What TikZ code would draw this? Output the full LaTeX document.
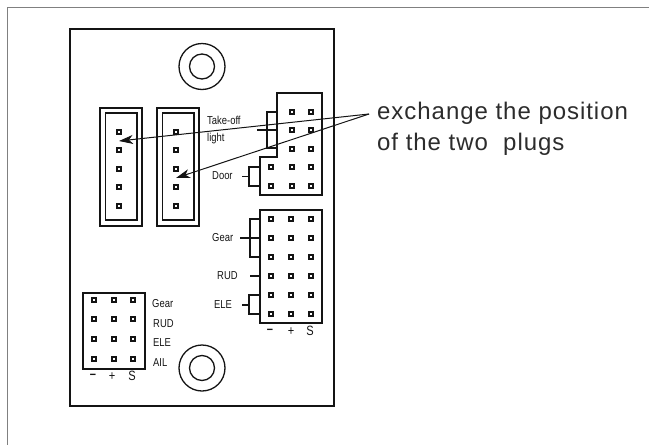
\documentclass[tikz,border=0pt]{standalone}
\usepackage{fontspec}
\setmainfont{Liberation Sans}
\newfontfamily\narrowf[FakeStretch=0.82]{Liberation Sans}
\newfontfamily\widef[LetterSpace=4]{Liberation Sans}
\usetikzlibrary{arrows.meta}
\definecolor{ink}{gray}{0.08}
\tikzset{
  x=1pt,y=-1pt,
  boardline/.style={draw=ink,line width=1.7pt},
  thinline/.style={draw=ink,line width=1.3pt},
  pinmark/.style={draw=ink,line width=1.6pt,fill=white,minimum size=3.6pt,inner sep=0pt,outer sep=0pt,rectangle},
  smalllabel/.style={inner sep=0pt,text=ink,font=\narrowf\fontsize{11.5}{13}\selectfont},
  polarity/.style={inner sep=0pt,text=ink,font=\narrowf\fontsize{13.5}{15}\selectfont},
  biglabel/.style={inner sep=0pt,anchor=west,text=ink!90,font=\widef\fontsize{24}{28}\selectfont},
  pointer/.style={draw=ink,line width=1pt,-{Stealth[length=14pt,width=9pt,inset=4pt]}},
}
\newcommand{\pinsat}[2]{\foreach \px in {#1}{\foreach \py in {#2}{\node[pinmark] at (\px,\py) {};}}}
\begin{document}
\begin{tikzpicture}
\useasboundingbox (0,0) rectangle (649,445);
\draw[draw=gray,line width=1pt] (7.5,445) -- (7.5,7.5) -- (649,7.5);
% board
\draw[boardline] (70,29) rectangle (334,406);
\foreach \cy in {66.5,368}{
  \draw[thinline] (202,\cy) circle (23);
  \draw[thinline] (202,\cy) circle (12.5);
}
% vertical plugs
\foreach \ox in {100,157}{
  \draw[thinline] (\ox,108) rectangle (\ox+42,226);
  \draw[thinline] (\ox+5.5,113) rectangle (\ox+37,220);
}
\pinsat{119,176}{132,150,169,187,206}
% top-right connector
\draw[boardline] (277,93) -- (322,93) -- (322,195) -- (260,195) -- (260,157) -- (277,157) -- cycle;
\pinsat{292,311}{112,130,149}
\pinsat{271,292,311}{167,186}
\draw[boardline] (277,112) -- (267,112) -- (267,148) -- (277,148);
\draw[boardline] (257,130) -- (277,130);
\draw[boardline] (260,167) -- (249,167) -- (249,186) -- (260,186);
\draw[boardline] (242,176.5) -- (249,176.5);
% right-lower connector
\draw[boardline] (260,210) rectangle (322,323);
\pinsat{271,291,311}{219,238,257,276,295,314}
\draw[boardline] (260,219) -- (250,219) -- (250,257) -- (260,257);
\draw[boardline] (240,238) -- (260,238);
\draw[boardline] (250,276) -- (260,276);
\draw[boardline] (260,295) -- (249,295) -- (249,314) -- (260,314);
\draw[boardline] (242,305) -- (249,305);
% left-lower connector
\draw[boardline] (83,293) rectangle (145,369);
\pinsat{94,114,133}{300,319,339,359}
% labels
\node[smalllabel,anchor=west] (l1) at (207,120) {Take-off};
\node[smalllabel,anchor=west] (l2) at (207,139) {light};
\node[smalllabel,anchor=west] (l3) at (212,176) {Door};
\node[smalllabel,anchor=west] (l4) at (212,238) {Gear};
\node[smalllabel,anchor=west] (l5) at (217,276) {RUD};
\node[smalllabel,anchor=west] (l6) at (214,305) {ELE};
\node[smalllabel,anchor=west] (l7) at (152,304) {Gear};
\node[smalllabel,anchor=west] (l8) at (153,324) {RUD};
\node[smalllabel,anchor=west] (l9) at (153,343) {ELE};
\node[smalllabel,anchor=west] (l10) at (153,363) {AIL};
\node[polarity] (ma) at (93,376.5) {\bfseries –};
\node[polarity] (mb) at (112,377) {+};
\node[polarity] (mc) at (132,376) {S};
\node[polarity] (md) at (270,331.5) {\bfseries –};
\node[polarity] (me) at (291,332) {+};
\node[polarity] (mf) at (310,331) {S};
\node[biglabel] (t1) at (377,113.5) {exchange the position};
\node[biglabel] (t2) at (377,144) {of the two\ \ plugs};
% arrows
\coordinate (apex) at (369,114);
\coordinate (tipa) at (119,141);
\coordinate (tipb) at (176,178);
\draw[pointer] (apex) -- (tipa);
\draw[pointer] (apex) -- (tipb);
\end{tikzpicture}
\end{document}
